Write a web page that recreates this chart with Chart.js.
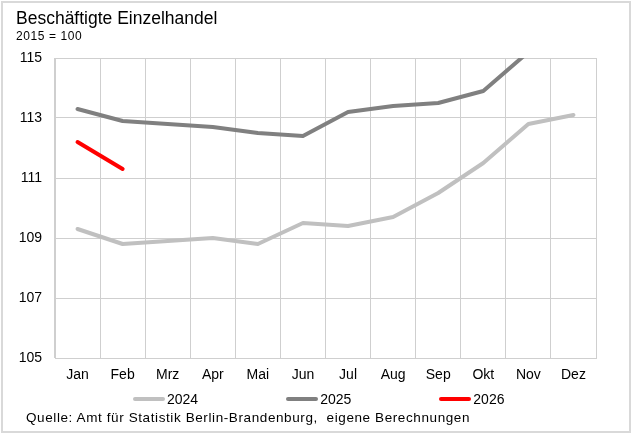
<!DOCTYPE html>
<html>
<head>
<meta charset="utf-8">
<script src="https://cdn.jsdelivr.net/npm/chart.js@4"></script>
<style>
  html, body { margin: 0; padding: 0; background: #fff; }
  body { width: 634px; height: 435px; position: relative; overflow: hidden; font-family: "Liberation Sans", Arial, sans-serif; color: #000; }
  #frame { position: absolute; left: 1px; top: 1px; width: 630px; height: 432px; box-sizing: border-box; border: 2px solid #d9d9d9; }
  #chart { position: absolute; left: 0; top: 0; }
  .txt { position: absolute; white-space: pre; line-height: 1; }
  #title { left: 16px; top: 10px; font-size: 17.5px; }
  #sub { left: 16px; top: 30px; font-size: 12px; letter-spacing: 0.6px; }
  #source { left: 26px; top: 411px; font-size: 13.5px; letter-spacing: 0.6px; }
  #legend { position: absolute; left: 133px; top: 391px; display: flex; gap: 88px; font-size: 14px; }
  #legend .item { display: flex; align-items: center; }
  #legend .swatch { width: 32px; height: 4px; border-radius: 2px; margin-right: 2px; }
</style>
</head>
<body>
<div id="frame"></div>
<canvas id="chart" width="634" height="435"></canvas>
<div class="txt" id="title">Beschäftigte Einzelhandel</div>
<div class="txt" id="sub">2015 = 100</div>
<div id="legend"></div>
<div class="txt" id="source">Quelle: Amt für Statistik Berlin-Brandenburg,  eigene Berechnungen</div>
<script>
const months = ['Jan', 'Feb', 'Mrz', 'Apr', 'Mai', 'Jun', 'Jul', 'Aug', 'Sep', 'Okt', 'Nov', 'Dez'];
const yTicks = [105, 107, 109, 111, 113, 115];

const values2024 = [109.3, 108.8, 108.9, 109.0, 108.8, 109.5, 109.4, 109.7, 110.5, 111.5, 112.8, 113.1];
const values2025 = [113.3, 112.9, 112.8, 112.7, 112.5, 112.4, 113.2, 113.4, 113.5, 113.9, 115.2, null];
const values2026 = [112.2, 111.3];

const series = [
  ['2024', values2024, '#c0c0c0'],
  ['2025', values2025, '#808080'],
  ['2026', values2026, '#ff0000'],
];

const gridColor = '#cfcfcf';
const tickFont = { family: '"Liberation Sans", Arial, sans-serif', size: 14 };

const chart = new Chart(document.getElementById('chart'), {
  type: 'line',
  data: {
    labels: months,
    datasets: series.map(([label, data, color]) => ({
      label,
      data,
      borderColor: color,
      backgroundColor: color,
      borderWidth: 4,
      pointRadius: 0,
      tension: 0,
      borderCapStyle: 'round',
      borderJoinStyle: 'round',
      spanGaps: false,
    })),
  },
  options: {
    responsive: false,
    animation: false,
    layout: { padding: { top: 58, right: 38, bottom: 47, left: 0 } },
    plugins: { legend: { display: false }, title: { display: false }, tooltip: { enabled: false } },
    scales: {
      x: {
        offset: true,
        grid: { color: gridColor, lineWidth: 1, drawTicks: false, offset: true },
        border: { color: gridColor, width: 1 },
        ticks: { color: '#000', font: tickFont, padding: 9, maxRotation: 0 },
        afterFit: (scale) => { scale.height = 30; },
      },
      y: {
        min: 105,
        max: 115,
        afterBuildTicks: (scale) => { scale.ticks = yTicks.map((value) => ({ value })); },
        grid: { color: gridColor, lineWidth: 1, drawTicks: false },
        border: { color: gridColor, width: 1 },
        ticks: { color: '#000', font: tickFont, padding: 13 },
        afterFit: (scale) => { scale.width = 55; },
      },
    },
  },
  plugins: [{
    id: 'rightEdge',
    afterDraw(c) {
      const { ctx, chartArea } = c;
      ctx.save();
      ctx.strokeStyle = gridColor;
      ctx.lineWidth = 1;
      ctx.beginPath();
      ctx.moveTo(chartArea.right + 0.5, chartArea.top);
      ctx.lineTo(chartArea.right + 0.5, chartArea.bottom);
      ctx.stroke();
      ctx.restore();
    },
  }],
});

document.getElementById('legend').innerHTML = chart.data.datasets
  .map((ds) => `<div class="item"><span class="swatch" style="background:${ds.borderColor}"></span><span>${ds.label}</span></div>`)
  .join('');
</script>
</body>
</html>
